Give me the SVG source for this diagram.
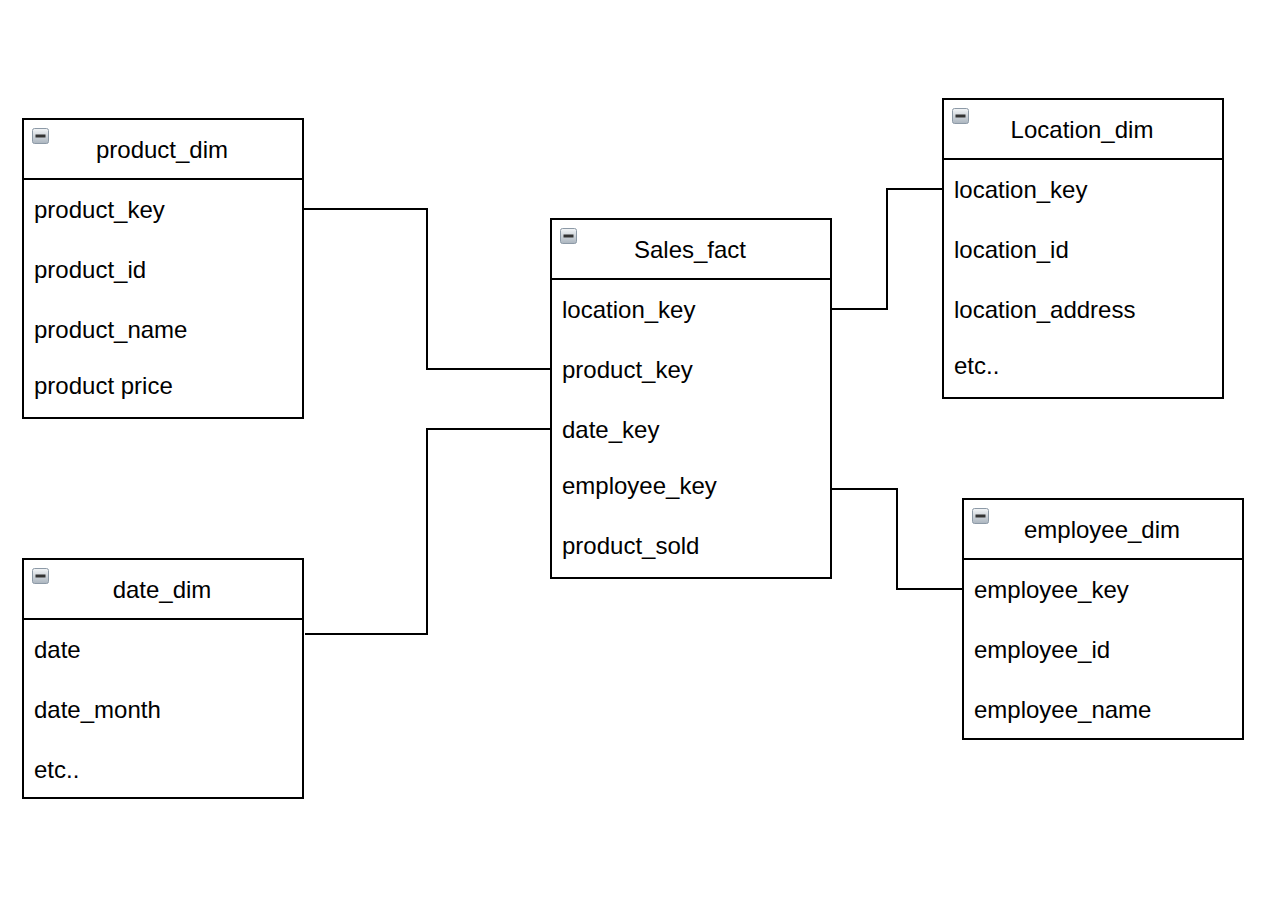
<svg xmlns="http://www.w3.org/2000/svg" width="1264" height="902" viewBox="0 0 1264 902">
<style>
.box{fill:#fff;stroke:#000;stroke-width:2}
.sep{stroke:#000;stroke-width:2}
.t{font-family:"Liberation Sans",Arial,sans-serif;font-size:24px;fill:#000}
.title{text-anchor:middle}
.conn{fill:none;stroke:#000;stroke-width:2}
</style>
<defs>
<linearGradient id="ig" x1="0" y1="0" x2="0" y2="1">
<stop offset="0" stop-color="#f4f6f8"/>
<stop offset="1" stop-color="#aab4be"/>
</linearGradient>
<g id="icon">
<rect x="0.5" y="0.5" width="16" height="15" rx="2" fill="url(#ig)" stroke="#8c99a6" stroke-width="1"/>
<rect x="3.5" y="6.5" width="10" height="3" fill="#333"/>
</g>
</defs>
<rect width="1264" height="902" fill="#fff"/>
<g id="connectors">
<polyline class="conn" points="303,209 427,209 427,369 551,369"/>
<polyline class="conn" points="305,634 427,634 427,429 551,429"/>
<polyline class="conn" points="831,309 887,309 887,189 943,189"/>
<polyline class="conn" points="831,489 897,489 897,589 963,589"/>
</g>
<g id="product_dim">
<rect class="box" x="23" y="119" width="280" height="299"/>
<line class="sep" x1="23" y1="179" x2="303" y2="179"/>
<use href="#icon" x="32" y="128"/>
<text class="t title" x="162" y="158">product_dim</text>
<text class="t" x="34" y="218">product_key</text>
<text class="t" x="34" y="278">product_id</text>
<text class="t" x="34" y="338">product_name</text>
<text class="t" x="34" y="394">product price</text>
</g>
<g id="sales_fact">
<rect class="box" x="551" y="219" width="280" height="359"/>
<line class="sep" x1="551" y1="279" x2="831" y2="279"/>
<use href="#icon" x="560" y="228"/>
<text class="t title" x="690" y="258">Sales_fact</text>
<text class="t" x="562" y="318">location_key</text>
<text class="t" x="562" y="378">product_key</text>
<text class="t" x="562" y="438">date_key</text>
<text class="t" x="562" y="494">employee_key</text>
<text class="t" x="562" y="554">product_sold</text>
</g>
<g id="location_dim">
<rect class="box" x="943" y="99" width="280" height="299"/>
<line class="sep" x1="943" y1="159" x2="1223" y2="159"/>
<use href="#icon" x="952" y="108"/>
<text class="t title" x="1082" y="138">Location_dim</text>
<text class="t" x="954" y="198">location_key</text>
<text class="t" x="954" y="258">location_id</text>
<text class="t" x="954" y="318">location_address</text>
<text class="t" x="954" y="374">etc..</text>
</g>
<g id="employee_dim">
<rect class="box" x="963" y="499" width="280" height="240"/>
<line class="sep" x1="963" y1="559" x2="1243" y2="559"/>
<use href="#icon" x="972" y="508"/>
<text class="t title" x="1102" y="538">employee_dim</text>
<text class="t" x="974" y="598">employee_key</text>
<text class="t" x="974" y="658">employee_id</text>
<text class="t" x="974" y="718">employee_name</text>
</g>
<g id="date_dim">
<rect class="box" x="23" y="559" width="280" height="239"/>
<line class="sep" x1="23" y1="619" x2="303" y2="619"/>
<use href="#icon" x="32" y="568"/>
<text class="t title" x="162" y="598">date_dim</text>
<text class="t" x="34" y="658">date</text>
<text class="t" x="34" y="718">date_month</text>
<text class="t" x="34" y="778">etc..</text>
</g>
</svg>
